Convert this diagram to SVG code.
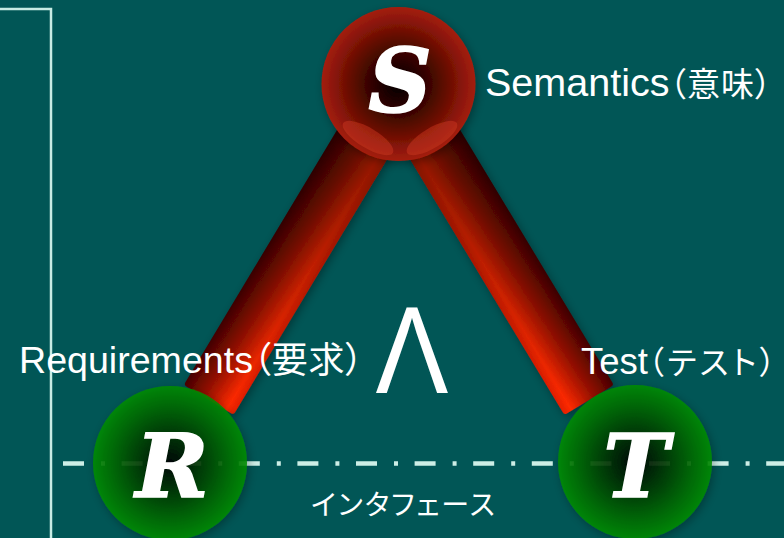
<svg xmlns="http://www.w3.org/2000/svg" width="784" height="538" viewBox="0 0 784 538">
  <style>
    .lat { font-family: "Liberation Sans", Arial, sans-serif; fill: #ffffff; }
    .cjk { font-family: "Noto Sans CJK JP", "Noto Sans CJK SC", sans-serif; fill: #ffffff; font-feature-settings: "palt"; }
    .big { font-family: "DejaVu Serif", "Liberation Serif", serif; font-weight: bold; font-style: italic; font-size: 88px; fill: #ffffff; stroke: #ffffff; stroke-width: 1.5; text-anchor: middle; }
  </style>
  <defs>
    <radialGradient id="gRed" cx="0.5" cy="0.5" r="0.5">
      <stop offset="0" stop-color="#000000"/>
      <stop offset="0.4" stop-color="#3a0500"/>
      <stop offset="0.75" stop-color="#7c1206"/>
      <stop offset="1" stop-color="#a41e0c"/>
    </radialGradient>
    <radialGradient id="gGreen" cx="0.5" cy="0.5" r="0.5">
      <stop offset="0" stop-color="#000000"/>
      <stop offset="0.4" stop-color="#003a00"/>
      <stop offset="0.75" stop-color="#006c00"/>
      <stop offset="1" stop-color="#008c00"/>
    </radialGradient>
    <!-- bar cross-section: dark outer edge, bright inner edge -->
    <linearGradient id="barL" gradientUnits="userSpaceOnUse" x1="-29" y1="0" x2="29" y2="0">
      <stop offset="0" stop-color="#460000"/>
      <stop offset="0.45" stop-color="#a01200"/>
      <stop offset="0.85" stop-color="#ff2a00"/>
      <stop offset="1" stop-color="#e41e00"/>
    </linearGradient>
    <linearGradient id="barR" href="#barL" x1="29" x2="-29"/>
    <!-- darkening toward the top of each bar -->
    <linearGradient id="barShade" gradientUnits="userSpaceOnUse" x1="0" y1="60" x2="0" y2="369">
      <stop offset="0" stop-color="#000000" stop-opacity="0.45"/>
      <stop offset="1" stop-color="#000000" stop-opacity="0"/>
    </linearGradient>
    <filter id="shadow" x="-30%" y="-30%" width="160%" height="160%">
      <feDropShadow dx="2" dy="3" stdDeviation="5" flood-color="#000000" flood-opacity="0.35"/>
    </filter>
  </defs>

  <rect width="784" height="538" fill="#015656"/>

  <!-- frame line on the left -->
  <path d="M0 9 H51 V538" fill="none" stroke="#c8ece4" stroke-width="2.5"/>

  <!-- interface line -->
  <line x1="63" y1="463.5" x2="784" y2="463.5" stroke="#cdeee6" stroke-width="4.5" stroke-dasharray="21 17 4 16.6"/>

  <g id="connectors" filter="url(#shadow)">
    <g id="bar-s-r" transform="translate(398.5,84) rotate(31)">
      <rect x="-29" y="0" width="58" height="368.5" rx="3" fill="url(#barL)"/>
      <rect x="-29" y="0" width="58" height="368.5" rx="3" fill="url(#barShade)"/>
    </g>
    <g id="bar-s-t" transform="translate(398.5,84) rotate(-31.1)">
      <rect x="-29" y="0" width="58" height="369" rx="3" fill="url(#barR)"/>
      <rect x="-29" y="0" width="58" height="369" rx="3" fill="url(#barShade)"/>
    </g>
  </g>

  <g id="node-s">
    <circle cx="398.5" cy="84" r="77" fill="url(#gRed)" filter="url(#shadow)"/>
    <ellipse cx="368" cy="138" rx="29" ry="10" transform="rotate(31 368 138)" fill="#d03a22" fill-opacity="0.45"/>
    <ellipse cx="432" cy="138" rx="29" ry="10" transform="rotate(-31 432 138)" fill="#d03a22" fill-opacity="0.45"/>
    <text class="big" x="400" y="112">S</text>
    <text class="lat" x="485" y="96" font-size="39.5">Semantics<tspan class="cjk" font-size="33" letter-spacing="1">（意味）</tspan></text>
  </g>

  <g id="node-r">
    <circle cx="170" cy="463" r="77" fill="url(#gGreen)" fill-opacity="0.88" filter="url(#shadow)"/>
    <text class="big" x="172" y="497">R</text>
    <text class="lat" x="19" y="373" font-size="37.6">Requirements<tspan class="cjk" font-size="36" letter-spacing="0.8">（要求）</tspan></text>
  </g>

  <g id="node-t">
    <circle cx="635" cy="462" r="77" fill="url(#gGreen)" fill-opacity="0.88" filter="url(#shadow)"/>
    <text class="big" x="636" y="497">T</text>
    <text class="lat" x="581" y="374" font-size="36.5">Test<tspan class="cjk" font-size="32" letter-spacing="3.3">（テスト）</tspan></text>
  </g>

  <g id="labels">
    <text class="lat" transform="translate(412,393) scale(0.88,1)" x="0" y="0" font-size="124" text-anchor="middle">Λ</text>
    <text class="cjk" x="404" y="515" font-size="28" letter-spacing="2" text-anchor="middle">インタフェース</text>
  </g>
</svg>
